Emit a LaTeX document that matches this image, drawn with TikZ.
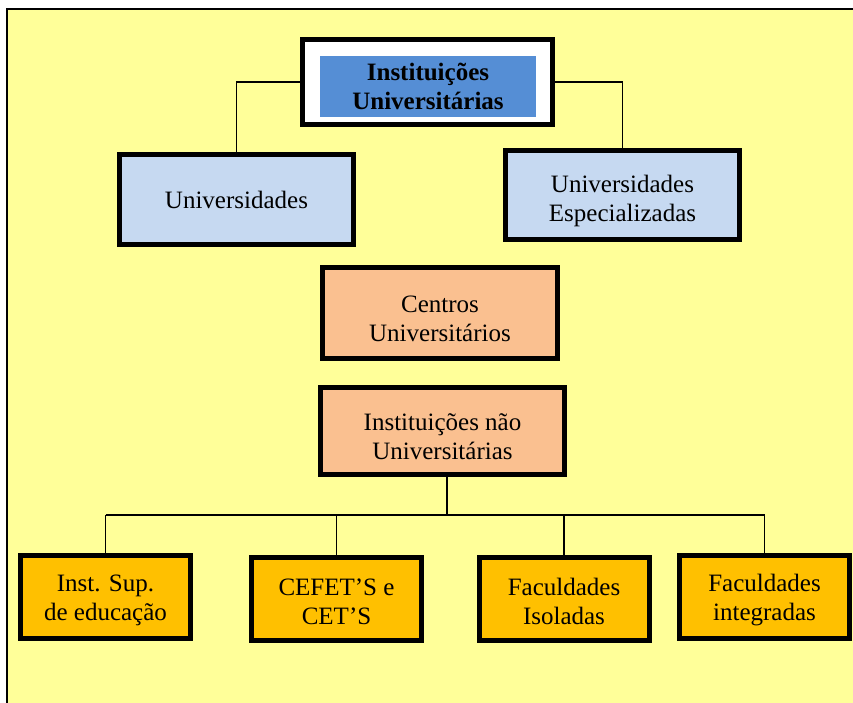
\documentclass[tikz,border=0pt]{standalone}
\usepackage{fontspec}
\setmainfont{Liberation Serif}
\definecolor{bgyellow}{HTML}{FFFF99}
\definecolor{lightblue}{HTML}{C6D9F1}
\definecolor{topblue}{HTML}{558ED5}
\definecolor{peach}{HTML}{FAC090}
\definecolor{amber}{HTML}{FFC000}
\begin{document}
\begin{tikzpicture}[x=1pt,y=-1pt,
  box/.style={draw=black, line width=5pt, rectangle, align=center,
    inner sep=0pt, outer sep=0pt, text=black,
    font=\fontsize{25}{29}\selectfont},
  twolines/.style={text height=58pt},
  unibox/.style={box, fill=lightblue, minimum width=234pt, minimum height=90pt},
  midbox/.style={box, twolines, fill=peach, minimum height=88pt},
  basebox/.style={box, text height=52pt, fill=amber, minimum width=170pt, minimum height=83pt},
  link/.style={draw=black, line width=1.5pt}]
\useasboundingbox (0,0) rectangle (853,702);
\clip (0,0) rectangle (853,702);
\fill[white] (0,0) rectangle (853,702);
% page frame
\draw[fill=bgyellow, line width=2pt] (7,9) rectangle (900,760);

% root
\node[box, fill=white, minimum width=250pt, minimum height=85pt] (root) at (427,82) {};
\node[fill=topblue, inner sep=0pt, minimum width=216pt, minimum height=61pt,
  align=center, font=\fontsize{25}{29}\selectfont\bfseries] (rootlabel) at (428,86.5)
  {Instituições\\Universitárias};

% university level
\node[unibox] (univ) at (236.5,199.5) {Universidades};
\node[unibox, twolines, minimum height=89pt] (espec) at (622.5,195) {Universidades\\Especializadas};

% middle level
\node[midbox, minimum width=235pt, minimum height=91pt] (centros) at (440,313) {Centros\\Universitários};
\node[midbox, minimum width=244pt, minimum height=87pt] (naouniv) at (442.5,431) {Instituições não\\Universitárias};

% non-university types
\node[basebox] (isup)  at (105.5,597)  {Inst. Sup.\\de educação};
\node[basebox] (cefet) at (336.5,598.5) {CEFET’S e\\CET’S};
\node[basebox] (fiso)  at (564,598.5)   {Faculdades\\Isoladas};
\node[basebox] (fint)  at (764.5,597)   {Faculdades\\integradas};

% connectors from the root
\draw[link] (root.west) -| (univ.north);
\draw[link] (root.east) -| (espec.north);

% bus under the non-university node
\coordinate (bus) at (447,515);
\draw[link] (naouniv.south -| bus) -- (bus);
\draw[link] (isup.north |- bus) -- (fint.north |- bus);
\foreach \b in {isup,cefet,fiso,fint}
  \draw[link] (\b.north) -- (\b.north |- bus);
\end{tikzpicture}
\end{document}
